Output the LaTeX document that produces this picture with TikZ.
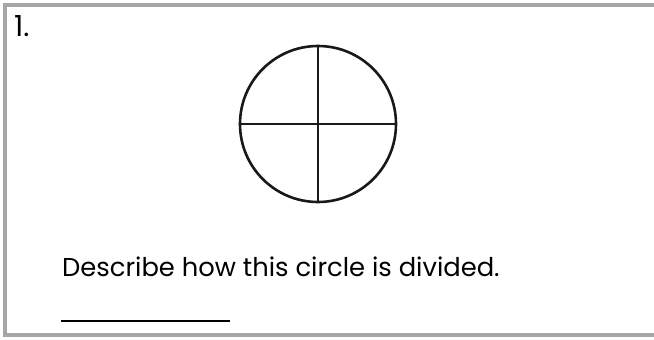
\documentclass[tikz,border=0pt]{standalone}
\usepackage{fontspec}
\setmainfont{Poppins}
\usetikzlibrary{positioning}
\tikzset{
  frame/.style={line width=3.5pt,gray!70},
  ink/.style={line width=2.6pt,black!90},
  prompttext/.style={anchor=base west,inner sep=0pt,font=\fontsize{25.8}{30}\selectfont}
}
\begin{document}
\begin{tikzpicture}[x=1pt,y=-1pt]
\useasboundingbox (0,0) rectangle (654,340);
% sheet edge (cut off on the right)
\draw[frame] (654,5) -- (5,5) -- (5,335) -- (654,335);
\node[anchor=base west,inner sep=0pt,font=\fontsize{29}{32}\selectfont] (num) at (14,36) {1.};
% circle in quarters
\node[circle,draw,ink,minimum size=156pt,inner sep=0pt] (wheel) at (318,124) {};
\draw[ink] (wheel.north) -- (wheel.south);
\draw[ink] (wheel.west) -- (wheel.east);
\node[prompttext] (prompt) at (62,276) {Describe how this circle is divided.};
% answer blank
\coordinate (blankstart) at (61,321);
\coordinate (blankend) at (230,321);
\draw[line width=2pt] (blankstart) -- (blankend);
\end{tikzpicture}
\end{document}
